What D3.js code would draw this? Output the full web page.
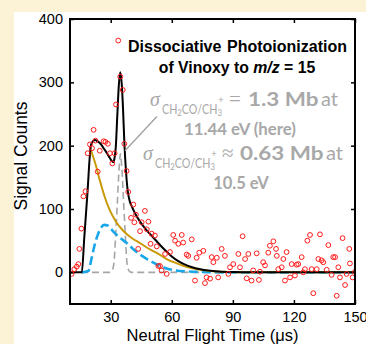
<!DOCTYPE html>
<html><head><meta charset="utf-8">
<script src="https://cdn.jsdelivr.net/npm/d3@7"></script>
<style>html,body{margin:0;padding:0;background:#fcf2d6;}svg{display:block}</style>
</head><body><svg id="c" width="366" height="344"></svg>
<script>
// ---- data ----
const timeObs = [10.8,12.1,13.3,14.1,14.6,15.6,16.6,17.6,18.7,19.8,20.8,21.6,22.5,23.6,24.6,26.5,27.4,28.6,29.6,30.8,31.9,32.6,33.7,34.7,35.9,36.7,37.8,38.6,40.0,41.1,41.6,42.4,43.5,44.4,45.2,46.8,47.7,48.5,49.6,50.1,51.7,52.6,53.4,54.2,55.0,56.7,57.5,59.1,60.7,61.6,63.2,64.9,65.6,67.3,68.1,69.8,71.4,72.2,73.5,75.5,76.3,77.1,78.8,79.6,80.4,82.1,82.8,84.5,86.1,87.8,88.6,90.2,92.7,93.5,94.8,96.0,96.8,97.6,99.2,100.0,101.7,102.8,103.3,104.9,105.8,107.4,108.2,109.9,111.2,111.6,112.3,114.0,114.8,115.6,116.4,118.1,118.9,120.5,121.3,122.1,123.8,124.6,125.4,126.6,127.9,128.7,129.5,131.2,132.0,132.8,133.6,134.4,136.1,136.9,138.5,139.3,140.2,141.0,141.8,142.6,143.9,145.1,145.9,147.2,147.5,148.8,150.0];
const countsObs = [-2.5,5,9,13,37,69,120,128,188,202,196,225,208,159,192,207,206,203,188,172,188,265,366,309,288,203,160,127,86,107,79,91,37,65,79,97,68,80,45,61,58,41,10,10,3,29,-2.5,32,59,50,45,59,47,28,26,52,-13,23,31,34,-17,-8,-10,24,16,23,-8,37,26,-2.5,8,13,29,8,57,21,-9.5,29,-13,3,30,-12,1,16,11,31,42,49,37,26,5,8,21,-13,32,-8,13,-5,12,13,24,0,5,50,59,5,-33,5,21,60,19,16,4,43,-4,24,24,-37,8,-8,54,-20,-2.5,37,14,-8,1];

const fitTime  = [10,15.8,17,18.5,20.3,21.3,22.3,23.5,25,26.5,28,29.5,30.5,31.2,31.8,32.5,33.2,34,34.7,35.4,36,36.7,37.5,38.3,39.3,40.5,42,44,46,48,50,52,54,57,60,63,66,70,74,78,83,90,100,150];
const fitTotal = [0,0,54,122,201,207,209,207,203,196,189,181,176,174,179,198,245,296,316,298,262,205,160,130,113,103,93,82,73,65,58,51,44,34,25,18,13,8,5,3,1.5,0.5,0,0];

const slowTime = [19.8,21,22.8,24.4,26,27.7,30,32.6,36,40.8,44,47.3,50,53,57.5,61,65,69,73,77,82,88,95,150];
const slowComp = [197,186,168,148,130,113,95,80,66,53,47,40,35,30,21,16,11,7,4.5,2.7,1.3,0.4,0,0];

const midTime = [15.8,19,20.6,22,23.5,25,26.8,28.5,30,32,34,36,38.3,41,44,47.3,50,53,57.5,62,67,75,85,150];
const midComp = [0,2,22,42,58,69,75,74,69,62,56,51,45,37,29,22,17,12,6,3,1.5,0.5,0,0];

const fastTime = [10,29.5,30.5,31.5,32.5,33.3,34,34.5,34.8,35.1,35.6,36.3,37.1,38.1,39.1,40.1,150];
const fastComp = [0,0,2,12,63,113,158,180,187,180,158,113,63,12,2,0,0];

const xTicks = [30,60,90,120,150];
const yTicks = [0,100,200,300,400];
const leaderFrom = [52.7,246];
const leaderTo = [37.0,192];

// ---- drawing ----
const svg = d3.select('#c');
svg.append('rect').attr('width',366).attr('height',344).attr('fill','#fcf2d6');
svg.append('rect').attr('x',14).attr('y',12).attr('width',352).attr('height',332).attr('fill','#ffffff');

const L=70,R=355,T=19,B=304;
const x = d3.scaleLinear().domain([10,150]).range([L,R]);
const y = d3.scaleLinear().domain([-50,400]).range([B,T]);

svg.append('clipPath').attr('id','clip').append('rect')
  .attr('x',L).attr('y',T).attr('width',R-L).attr('height',B-T);

const tickFont = 'Liberation Sans, Arial, sans-serif';
function styleAxis(g){
  g.select('.domain').remove();
  g.selectAll('line').attr('stroke','#000').attr('stroke-width',1.5);
  g.selectAll('text').attr('font-family',tickFont).attr('font-size',14.5).attr('fill','#000');
}
svg.append('g').attr('transform',`translate(${L},0)`)
  .call(d3.axisLeft(y).tickValues(yTicks).tickSize(-4).tickPadding(7)).call(styleAxis);
svg.append('g').attr('transform',`translate(${R},0)`)
  .call(d3.axisRight(y).tickValues(yTicks).tickSize(-4).tickFormat('')).call(styleAxis);
svg.append('g').attr('transform',`translate(0,${B})`)
  .call(d3.axisBottom(x).tickValues(xTicks).tickSize(-4).tickPadding(7.5)).call(styleAxis);
svg.append('g').attr('transform',`translate(0,${T})`)
  .call(d3.axisTop(x).tickValues(xTicks).tickSize(-4).tickFormat('')).call(styleAxis);

const plot = svg.append('g').attr('clip-path','url(#clip)');
const line = d3.line().x(d=>x(d[0])).y(d=>y(d[1])).curve(d3.curveMonotoneX);
const zip = (a,b)=>a.map((v,i)=>[v,b[i]]);

plot.append('path').datum(zip(fastTime,fastComp)).attr('d',line)
  .attr('fill','none').attr('stroke','#a6a6a6').attr('stroke-width',1.6).attr('stroke-dasharray','7,4');
plot.append('path').datum(zip(midTime,midComp)).attr('d',line)
  .attr('fill','none').attr('stroke','#1aa7ea').attr('stroke-width',2.6).attr('stroke-dasharray','9,4');
plot.append('path').datum(zip(slowTime,slowComp)).attr('d',line)
  .attr('fill','none').attr('stroke','#c99a06').attr('stroke-width',2);
plot.append('path').datum(zip(fitTime,fitTotal)).attr('d',line)
  .attr('fill','none').attr('stroke','#000').attr('stroke-width',2);

plot.selectAll('circle.obs').data(zip(timeObs,countsObs)).join('circle')
  .attr('class','obs').attr('cx',d=>x(d[0])).attr('cy',d=>y(d[1])).attr('r',2.4)
  .attr('fill','none').attr('stroke','#ff1a1a').attr('stroke-width',1);

// frame
svg.append('rect').attr('x',L).attr('y',T).attr('width',R-L).attr('height',B-T)
  .attr('fill','none').attr('stroke','#000').attr('stroke-width',2);

// axis labels
svg.append('text').attr('x',(L+R)/2).attr('y',341).attr('text-anchor','middle')
  .attr('font-family',tickFont).attr('font-size',16.5).text('Neutral Flight Time (μs)');
svg.append('text').attr('transform','translate(27,156) rotate(-90)').attr('text-anchor','middle')
  .attr('font-family',tickFont).attr('font-size',17.5).text('Signal Counts');

// title
svg.append('text').attr('x',128).attr('y',52).attr('font-family',tickFont).attr('font-weight','bold')
  .attr('font-size',16).text('Dissociative');
svg.append('text').attr('x',347).attr('y',52).attr('text-anchor','end').attr('font-family',tickFont)
  .attr('font-weight','bold').attr('font-size',16).text('Photoionization');
const t2 = svg.append('text').attr('x',237).attr('y',73).attr('text-anchor','middle').attr('font-family',tickFont)
  .attr('font-weight','bold').attr('font-size',15.8);
t2.append('tspan').text('of Vinoxy to ');
t2.append('tspan').attr('font-style','italic').text('m/z');
t2.append('tspan').text(' = 15');

// leader
svg.append('line').attr('x1',x(leaderFrom[0])).attr('y1',y(leaderFrom[1]))
  .attr('x2',x(leaderTo[0])).attr('y2',y(leaderTo[1])).attr('stroke','#a0a0a0').attr('stroke-width',1.3);

// annotation
const grey = '#a8a8a8';
const sans = 'Lato, Open Sans, sans-serif';
const serif = 'Liberation Serif, DejaVu Serif, serif';
function sigmaLabel(xs, yb){
  svg.append('text').attr('x',xs).attr('y',yb).attr('fill',grey).attr('font-family',serif)
    .attr('font-style','italic').attr('font-size',20).text('σ');
  const t = svg.append('g').attr('transform',`translate(${xs+12},${yb+8}) scale(0.86,1)`)
    .append('text').attr('fill',grey).attr('font-family',sans).attr('font-size',12.5);
  t.append('tspan').text('CH');
  t.append('tspan').attr('font-size',9).attr('dy',2).text('2');
  t.append('tspan').attr('dy',-2).text('CO/CH');
  t.append('tspan').attr('font-size',9).attr('dy',2).text('3');
  svg.append('text').attr('x',xs+68).attr('y',yb-3).attr('fill',grey).attr('font-family',sans)
    .attr('font-size',10).text('+');
}
function valueLabel(xRel, xNum, xAtEnd, yb, rel, num){
  svg.append('text').attr('x',xRel).attr('y',yb).attr('fill',grey).attr('font-family',serif)
    .attr('font-size',21).text(rel);
  svg.append('g').attr('transform',`translate(${xNum},${yb}) scale(1.15,1)`)
    .append('text').attr('fill',grey).attr('font-family',sans)
    .attr('font-weight','bold').attr('font-size',19.5).text(num);
  svg.append('text').attr('x',xAtEnd).attr('y',yb).attr('text-anchor','end').attr('fill',grey).attr('font-family',sans)
    .attr('font-size',20).text('at');
}
sigmaLabel(150,106);
valueLabel(229,248,338,106,'=','1.3 Mb');
svg.append('text').attr('x',240).attr('y',135).attr('text-anchor','middle').attr('fill',grey)
  .attr('font-family',sans).attr('font-weight','bold').attr('font-size',16.8).text('11.44 eV (here)');
sigmaLabel(143,160);
valueLabel(222,240,343,160,'≈','0.63 Mb');
svg.append('text').attr('x',241).attr('y',189).attr('text-anchor','middle').attr('fill',grey)
  .attr('font-family',sans).attr('font-weight','bold').attr('font-size',16.5).text('10.5 eV');
</script></body></html>
